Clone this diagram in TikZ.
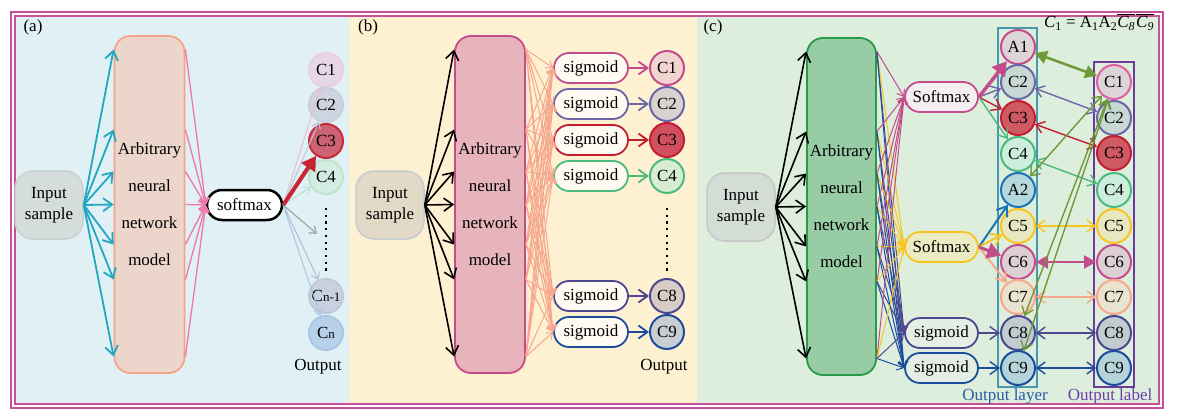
\documentclass[tikz,border=0pt]{standalone}
\usepackage{fontspec}
\setmainfont{Liberation Serif}
\usetikzlibrary{arrows.meta,calc}

\newcommand\ovl[1]{\vbox{\hrule height 1.3pt\kern 1.3pt\hbox{#1}}}

\definecolor{bgA}{HTML}{E1F0F5}
\definecolor{bgB}{HTML}{FDF1D2}
\definecolor{bgC}{HTML}{DDEFDC}
\definecolor{frm}{HTML}{C8509A}
\definecolor{tealA}{HTML}{1FA8C0}
\definecolor{pinkA}{HTML}{EC78AC}
\definecolor{salm}{HTML}{F6A88E}
\definecolor{mag}{HTML}{C44C8C}
\definecolor{purp}{HTML}{6C66A8}
\definecolor{redd}{HTML}{C21E30}
\definecolor{grn}{HTML}{4CBA7C}
\definecolor{navy}{HTML}{4C4890}
\definecolor{blu}{HTML}{1C4C9C}
\definecolor{yel}{HTML}{F8C420}
\definecolor{bluA}{HTML}{1C72B8}
\definecolor{oliv}{HTML}{6E9A38}
\definecolor{peachC}{HTML}{F8A888}
\definecolor{layerbox}{HTML}{4898B0}
\definecolor{labelbox}{HTML}{6C3C9C}
\definecolor{txtblue}{HTML}{2C5CA8}
\definecolor{txtpurp}{HTML}{7040A8}
% boxes
\definecolor{inAd}{HTML}{C8D0D0}\definecolor{inAf}{HTML}{D4DCDC}
\definecolor{inBd}{HTML}{C4CCD2}\definecolor{inBf}{HTML}{E2DAC6}
\definecolor{inCd}{HTML}{C4C8C4}\definecolor{inCf}{HTML}{D4DCD6}
\definecolor{mAd}{HTML}{F4A486}\definecolor{mAf}{HTML}{ECD6CC}
\definecolor{mBf}{HTML}{E8B4BC}
\definecolor{mCd}{HTML}{289A48}\definecolor{mCf}{HTML}{98CCA4}
\definecolor{sgBf}{HTML}{FFFAF2}
\definecolor{sm1f}{HTML}{F4EEF0}\definecolor{sm2f}{HTML}{ECECC4}
\definecolor{sgCf}{HTML}{E4EEE4}
% circles (a)
\definecolor{a1d}{HTML}{EBCDE3}\definecolor{a1f}{HTML}{E6D6E6}
\definecolor{a2d}{HTML}{C6CEDC}\definecolor{a2f}{HTML}{CED5E1}
\definecolor{a3d}{HTML}{C42A3A}\definecolor{a3f}{HTML}{CC6272}
\definecolor{a4d}{HTML}{BCE5CD}\definecolor{a4f}{HTML}{D2EDE1}
\definecolor{an1d}{HTML}{C1C9D9}\definecolor{an1f}{HTML}{C9D1E1}
\definecolor{and}{HTML}{A9C7E4}\definecolor{anf}{HTML}{B6D1E8}
\definecolor{ar1}{HTML}{E8BCD4}\definecolor{ar2}{HTML}{BCC4DA}
\definecolor{ar3}{HTML}{C82434}\definecolor{ar4}{HTML}{B4E2CA}
\definecolor{ardot}{HTML}{A4ACAC}\definecolor{arn1}{HTML}{ACBCD4}
\definecolor{arn}{HTML}{A4C4E2}
% circles (b)
\definecolor{b1f}{HTML}{F2D4D0}\definecolor{b2f}{HTML}{D8D2D0}
\definecolor{b3f}{HTML}{D05060}\definecolor{b4f}{HTML}{D8ECD4}
\definecolor{b5f}{HTML}{D8CCC4}\definecolor{b6f}{HTML}{C8CED4}
% circles (c)
\definecolor{cA1f}{HTML}{DCD4D6}\definecolor{cC2f}{HTML}{C8D8D4}
\definecolor{cC3f}{HTML}{D05A64}\definecolor{cC4f}{HTML}{CCEEDD}
\definecolor{cA2f}{HTML}{B4D8DC}\definecolor{cC5f}{HTML}{E8E8C0}
\definecolor{cC6f}{HTML}{DCD0D4}\definecolor{cC7f}{HTML}{E8E4D0}
\definecolor{cC8f}{HTML}{C0CCD0}\definecolor{cC9f}{HTML}{B4D4DA}
\definecolor{rC1d}{HTML}{E060A8}

\begin{document}
\begin{tikzpicture}[x=1pt,y=-1pt,
  every node/.style={font=\fontsize{17}{21}\selectfont},
  inbox/.style 2 args={draw=#1,fill=#2,line width=1.5pt,rounded corners=18pt,minimum width=68pt,minimum height=68pt,align=center,inner sep=0pt},
  model/.style 2 args={draw=#1,fill=#2,line width=1.8pt,rounded corners=16pt,minimum width=70pt,minimum height=337pt,align=center,inner sep=0pt,font=\fontsize{17}{37}\selectfont},
  fbox/.style 2 args={draw=#1,fill=#2,line width=1.8pt,rounded corners=15pt,minimum width=74pt,minimum height=30pt,inner sep=0pt},
  cnode/.style 2 args={circle,draw=#1,fill=#2,line width=2pt,minimum size=34pt,inner sep=0pt},
  arr/.style={line width=1.4pt,-{Straight Barb[length=9pt,width=13pt]}},
  fan/.style={line width=1pt,-{Straight Barb[length=6pt,width=9pt]}},
  big/.style={line width=4pt,-{Triangle[length=14pt,width=16pt]}},
  dbl/.style={line width=1.4pt,{Straight Barb[length=8pt,width=12pt]}-{Straight Barb[length=8pt,width=12pt]}},
  dblbig/.style={line width=2.5pt,{Triangle[length=12pt,width=13pt]}-{Triangle[length=12pt,width=13pt]}},
  dots/.style={line width=2.2pt,dash pattern=on 2.2pt off 4.5pt}]
\useasboundingbox (0,0) rectangle (1183,417);
\fill[white] (0,0) rectangle (1183,417);
\fill[bgA] (15,16) rectangle (349,404);
\fill[bgB] (349,16) rectangle (697,404);
\fill[bgC] (697,16) rectangle (1159,404);
\draw[frm,line width=1.8pt] (11,12) rectangle (1163,408);
\draw[frm,line width=1.8pt] (15,16) rectangle (1159,404);

% (a)
\node (labA) at (33,27) {(a)};
\node[inbox={inAd}{inAf}] (inA) at (49,205) {Input\\sample};
\node[model={mAd}{mAf}] (mA) at (149.5,204.5) {Arbitrary\\neural\\network\\model};
\node[fbox={black}{white},line width=2.5pt,minimum width=75pt] (smA) at (244.5,205) {softmax};
\node[cnode={a1d}{a1f}] (a1) at (326,70) {C1};
\node[cnode={a2d}{a2f}] (a2) at (326,105) {C2};
\node[cnode={a3d}{a3f}] (a3) at (326,141) {C3};
\node[cnode={a4d}{a4f}] (a4) at (326,177) {C4};
\node[cnode={an1d}{an1f}] (an1) at (326,296) {C{\fontsize{13}{13}\selectfont n-1}};
\node[cnode={and}{anf}] (an) at (326,333) {C{\fontsize{13}{13}\selectfont n}};
\coordinate (dA) at (317,234);
\coordinate (dA1) at (326,208);
\coordinate (dA2) at (326,272);
\node (outA) at (318,367) {Output};
\foreach \i/\d in {1/-155,2/-75,3/-33,4/0,5/40,6/75,7/152}{
  \coordinate (mAw\i) at ($(mA.west)+(0,\d)$);
  \coordinate (mAe\i) at ($(mA.east)+(0,\d)$);
}
\foreach \i in {1,...,7}{
  \draw[arr,tealA,line width=1.8pt] (inA.east) -- (mAw\i);
  \draw[fan,pinkA,line width=1.3pt] (mAe\i) -- (smA.west);
}
\draw[fan,ar1] (smA.east) -- (a1);
\draw[fan,ar2] (smA.east) -- (a2);
\draw[fan,ar4] (smA.east) -- (a4);
\draw[fan,ardot,line width=1.3pt] (smA.east) -- (dA);
\draw[fan,arn1] (smA.east) -- (an1);
\draw[fan,arn] (smA.east) -- (an);
\draw[big,ar3] (smA.east) -- (a3);
\draw[dots] (dA1) -- (dA2);

% (b)
\node (labB) at (368,27) {(b)};
\node[inbox={inBd}{inBf}] (inB) at (390,205) {Input\\sample};
\node[model={mag}{mBf}] (mB) at (490,204.5) {Arbitrary\\neural\\network\\model};
\foreach \i/\y/\c in {1/68/mag,2/104/purp,3/140/redd,4/176/grn,5/296/navy,6/332/blu}
  \node[fbox={\c}{sgBf}] (sgB\i) at (591,\y) {sigmoid};
\node[cnode={mag}{b1f}] (b1) at (667,68) {C1};
\node[cnode={purp}{b2f}] (b2) at (667,104) {C2};
\node[cnode={redd}{b3f}] (b3) at (667,140) {C3};
\node[cnode={grn}{b4f}] (b4) at (667,176) {C4};
\node[cnode={navy}{b5f}] (b5) at (667,296) {C8};
\node[cnode={blu}{b6f}] (b6) at (667,332) {C9};
\coordinate (dB1) at (667,208);
\coordinate (dB2) at (667,272);
\node (outB) at (664,367) {Output};
\foreach \i/\d in {1/-155,2/-75,3/-33,4/0,5/40,6/75,7/152}{
  \coordinate (mBw\i) at ($(mB.west)+(0,\d)$);
  \coordinate (mBe\i) at ($(mB.east)+(0,\d)$);
}
\foreach \i in {1,...,7}{
  \draw[arr,black,line width=1.6pt] (inB.east) -- (mBw\i);
  \foreach \j in {1,...,6}
    \draw[fan,salm] (mBe\i) -- (sgB\j.west);
}
\foreach \j/\c in {1/mag,2/purp,3/redd,4/grn,5/navy,6/blu}
  \draw[arr,\c,line width=1.8pt] (sgB\j) -- (b\j);
\draw[dots] (dB1) -- (dB2);

% (c)
\node (labC) at (713,27) {(c)};
\node[inbox={inCd}{inCf}] (inC) at (741,207) {Input\\sample};
\node[model={mCd}{mCf},minimum width=69pt] (mC) at (841.5,206.5) {Arbitrary\\neural\\network\\model};
\node[fbox={mag}{sm1f},minimum width=73pt] (smC1) at (941.5,97) {Softmax};
\node[fbox={yel}{sm2f},minimum width=73pt] (smC2) at (941.5,247) {Softmax};
\node[fbox={navy}{sgCf},minimum width=73pt] (sgC1) at (941.5,333) {sigmoid};
\node[fbox={blu}{sgCf},minimum width=73pt] (sgC2) at (941.5,368) {sigmoid};
\draw[layerbox,line width=1.2pt] (998,28) rectangle (1037,387);
\draw[labelbox,line width=2pt] (1094,62) rectangle (1134,387);
\node[cnode={mag}{cA1f}] (lA1) at (1018,47) {A1};
\node[cnode={purp}{cC2f}] (lC2) at (1018,82) {C2};
\node[cnode={redd}{cC3f}] (lC3) at (1018,118) {C3};
\node[cnode={grn}{cC4f}] (lC4) at (1018,154) {C4};
\node[cnode={bluA}{cA2f}] (lA2) at (1018,190) {A2};
\node[cnode={yel}{cC5f}] (lC5) at (1018,226) {C5};
\node[cnode={mag}{cC6f}] (lC6) at (1018,262) {C6};
\node[cnode={peachC}{cC7f}] (lC7) at (1018,297) {C7};
\node[cnode={navy}{cC8f}] (lC8) at (1018,333) {C8};
\node[cnode={blu}{cC9f}] (lC9) at (1018,368) {C9};
\node[cnode={rC1d}{cA1f}] (rC1) at (1114,82) {C1};
\node[cnode={purp}{cC2f}] (rC2) at (1114,118) {C2};
\node[cnode={redd}{cC3f}] (rC3) at (1114,153) {C3};
\node[cnode={grn}{cC4f}] (rC4) at (1114,190) {C4};
\node[cnode={yel}{cC5f}] (rC5) at (1114,226) {C5};
\node[cnode={mag}{cC6f}] (rC6) at (1114,262) {C6};
\node[cnode={peachC}{cC7f}] (rC7) at (1114,297) {C7};
\node[cnode={navy}{cC8f}] (rC8) at (1114,333) {C8};
\node[cnode={blu}{cC9f}] (rC9) at (1114,368) {C9};
\node[txtblue] (outL) at (1005,396) {Output layer};
\node[txtpurp] (outR) at (1110,396) {Output label};
\node[anchor=base] (eqC) at (1099,28) {{\itshape C}\textsubscript{1} = A\textsubscript{1}A\textsubscript{2}\ovl{\itshape C\textsubscript{8}}\kern1pt\ovl{\itshape C\textsubscript{9}}};
\foreach \i/\d in {1/-155,2/-75,3/-33,4/0,5/40,6/75,7/152}{
  \coordinate (mCw\i) at ($(mC.west)+(0,\d)$);
  \coordinate (mCe\i) at ($(mC.east)+(0,\d)$);
}
\foreach \i in {1,...,7}{
  \draw[arr,black,line width=1.6pt] (inC.east) -- (mCw\i);
  \draw[fan,mag] (mCe\i) -- (smC1.west);
  \draw[fan,yel] (mCe\i) -- (smC2.west);
  \draw[fan,navy] (mCe\i) -- (sgC1.west);
  \draw[fan,blu] (mCe\i) -- (sgC2.west);
}
\draw[arr,purp] (smC1.east) -- (lC2);
\draw[arr,redd] (smC1.east) -- (lC3);
\draw[arr,grn] (smC1.east) -- (lC4);
\draw[big,mag,line width=3.5pt] (smC1.east) -- (lA1);
\draw[arr,bluA,line width=2pt] (smC2.east) -- (lA2);
\draw[arr,yel,line width=2pt] (smC2.east) -- (lC5);
\draw[arr,peachC,line width=2pt] (smC2.east) -- (lC7);
\draw[big,mag,line width=3pt] (smC2.east) -- (lC6);
\draw[arr,navy] (sgC1) -- (lC8);
\draw[arr,blu] (sgC2) -- (lC9);
\draw[dblbig,oliv] (lA1) -- (rC1);
\draw[dbl,purp] (lC2) -- (rC2);
\draw[dbl,redd] (lC3) -- (rC3);
\draw[dbl,grn] (lC4) -- (rC4);
\draw[dbl,yel] (lC5) -- (rC5);
\draw[dblbig,mag] (lC6) -- (rC6);
\draw[dbl,peachC] (lC7) -- (rC7);
\draw[dbl,navy] (lC8) -- (rC8);
\draw[dbl,blu] (lC9) -- (rC9);
\draw[dbl,oliv] (rC1) -- (lA2);
\draw[dbl,oliv] (rC1) -- (lC8);
\draw[dbl,oliv] (rC1) -- (lC9);
\end{tikzpicture}
\end{document}
